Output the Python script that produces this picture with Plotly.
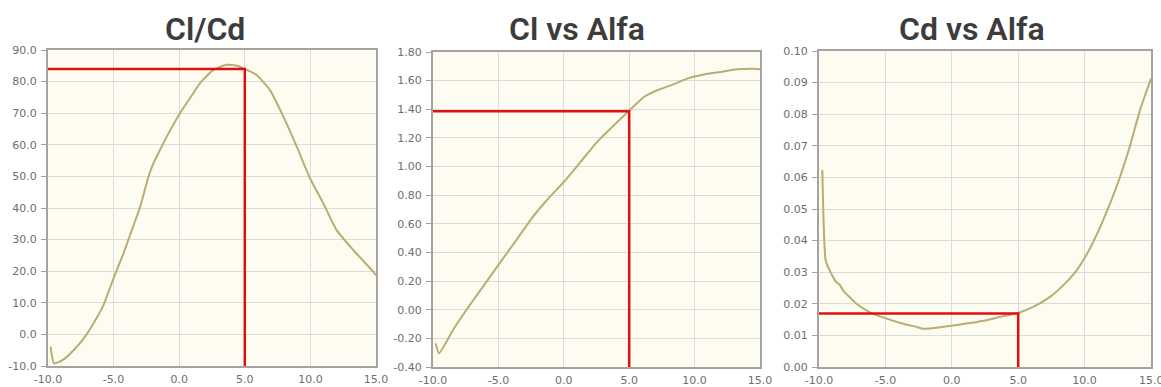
import plotly.graph_objects as go

W, H = 1161, 387

# ---- data ----
alfa_clcd = [-9.8, -9.54, -8.83, -8.07, -7.3, -6.55, -5.78, -5.02, -4.26, -3.62, -2.99, -2.35, -1.97,
             -1.46, -0.96, 0.06, 1.07, 1.59, 2.6, 3.62, 4.4, 4.88, 5.9, 6.92, 7.94, 8.96, 9.97, 10.98,
             12.0, 13.27, 14.8, 15.0]
clcd = [-3.9, -9.2, -8.0, -5.1, -1.4, 3.4, 9.2, 17.6, 25.5, 32.9, 40.2, 49.8, 54.1,
        58.4, 62.5, 70.0, 76.3, 79.5, 83.7, 85.3, 85.0, 84.2, 82.1, 77.3, 68.9, 59.4, 49.4, 41.5,
        33.0, 26.7, 19.8, 18.7]

alfa_cl = [-9.8, -9.54, -8.47, -7.45, -6.18, -4.9, -3.63, -2.35, -1.2, 0.0, 1.28, 2.55, 3.83, 5.03,
           6.12, 7.15, 8.17, 9.44, 10.08, 10.97, 11.99, 13.26, 14.5, 15.0]
cl = [-0.234, -0.304, -0.141, -0.002, 0.161, 0.325, 0.487, 0.65, 0.775, 0.892, 1.032, 1.172, 1.288, 1.393,
      1.486, 1.533, 1.567, 1.614, 1.63, 1.648, 1.66, 1.679, 1.683, 1.679]

alfa_cd = [-9.75, -9.5, -9.2, -8.7, -8.45, -8.2, -7.2, -6.2, -4.9, -3.67, -2.66, -2.16, -1.16, 0.1,
           1.36, 2.6, 3.87, 5.0, 6.13, 7.4, 8.4, 9.4, 10.4, 11.4, 12.4, 13.4, 14.17, 15.0]
cd = [0.0623, 0.0338, 0.0306, 0.0269, 0.0261, 0.0243, 0.0201, 0.0174, 0.0153, 0.0137, 0.0127, 0.0121,
      0.0124, 0.0131, 0.0139, 0.0148, 0.0161, 0.0171, 0.019, 0.0222, 0.0259, 0.0306, 0.0375, 0.0465,
      0.057, 0.0697, 0.0813, 0.0913]

titles = ["Cl/Cd", "Cl vs Alfa", "Cd vs Alfa"]
sel_alfa = 5.0
sel_vals = [84.0, 1.386, 0.0169]

x_tickvals = [-10, -5, 0, 5, 10, 15]
x_ticktext = ["-10.0", "-5.0", "0.0", "5.0", "10.0", "15.0"]

y1_tickvals = [-10, 0, 10, 20, 30, 40, 50, 60, 70, 80, 90]
y1_ticktext = ["-10.0", "0.0", "10.0", "20.0", "30.0", "40.0", "50.0", "60.0", "70.0", "80.0", "90.0"]
y2_tickvals = [-0.4, -0.2, 0.0, 0.2, 0.4, 0.6, 0.8, 1.0, 1.2, 1.4, 1.6, 1.8]
y2_ticktext = ["-0.40", "-0.20", "0.00", "0.20", "0.40", "0.60", "0.80", "1.00", "1.20", "1.40", "1.60", "1.80"]
y3_tickvals = [0.0, 0.01, 0.02, 0.03, 0.04, 0.05, 0.06, 0.07, 0.08, 0.09, 0.10]
y3_ticktext = ["0.00", "0.01", "0.02", "0.03", "0.04", "0.05", "0.06", "0.07", "0.08", "0.09", "0.10"]

# ---- layout geometry (pixels) ----
boxes = [(48, 376, 50, 366), (433, 760, 52, 367), (819, 1151, 51, 367)]
title_cx = [205, 577, 972]

LINE = "#b8ad72"
RED = "#e01010"
BG = "#fefcf1"
GRID = "#dcdcdc"
BORDER = "#a3a3a3"
TICKC = "#6e6e6e"
TICKFONT = dict(family="DejaVu Sans", size=11, color=TICKC)

fig = go.Figure()
series = [(alfa_clcd, clcd), (alfa_cl, cl), (alfa_cd, cd)]
yticks = [(y1_tickvals, y1_ticktext), (y2_tickvals, y2_ticktext), (y3_tickvals, y3_ticktext)]

layout = dict(
    width=W, height=H,
    margin=dict(l=0, r=0, t=0, b=0),
    paper_bgcolor="white",
    showlegend=False,
    annotations=[], shapes=[],
)

for i, ((xs, ys), box) in enumerate(zip(series, boxes)):
    n = "" if i == 0 else str(i + 1)
    xa, ya = "x" + n, "y" + n
    x0, x1, y0, y1 = box
    yv, yt = yticks[i]
    layout["xaxis" + n] = dict(
        domain=[x0 / W, x1 / W], anchor=ya, range=[x_tickvals[0], x_tickvals[-1]],
        tickmode="array", tickvals=x_tickvals, ticktext=x_ticktext,
        showgrid=True, gridcolor=GRID, gridwidth=1, zeroline=False,
        showline=True, linecolor=BORDER, linewidth=2, mirror=True,
        ticks="", ticklabelstandoff=2,
        tickfont=TICKFONT, automargin=False,
        fixedrange=True,
    )
    layout["yaxis" + n] = dict(
        domain=[1 - y1 / H, 1 - y0 / H], anchor=xa, range=[yv[0], yv[-1]],
        tickmode="array", tickvals=yv, ticktext=yt,
        showgrid=True, gridcolor=GRID, gridwidth=1,
        zeroline=False, showline=True, linecolor=BORDER, linewidth=2, mirror=True,
        ticks="outside", ticklen=5, tickcolor=BORDER, ticklabelstandoff=2,
        tickfont=TICKFONT, automargin=False,
        fixedrange=True,
    )
    layout["shapes"].append(dict(type="rect", xref=xa + " domain", yref=ya + " domain",
                                 x0=0, x1=1, y0=0, y1=1, fillcolor=BG, line=dict(width=0),
                                 layer="below"))
    fig.add_trace(go.Scatter(x=xs, y=ys, mode="lines", xaxis=xa, yaxis=ya,
                             line=dict(color=LINE, width=2, shape="spline", smoothing=0.5),
                             hoverinfo="skip"))
    fig.add_trace(go.Scatter(x=[x_tickvals[0], sel_alfa, sel_alfa], y=[sel_vals[i], sel_vals[i], yv[0]],
                             mode="lines", xaxis=xa, yaxis=ya, line=dict(color=RED, width=2.5),
                             hoverinfo="skip", cliponaxis=False))
    layout["annotations"].append(dict(
        text=titles[i], xref="paper", yref="paper",
        x=title_cx[i] / W, y=1 - 29 / H, xanchor="center", yanchor="middle", showarrow=False,
        font=dict(family="Roboto", size=32, color="#3c3c3c", weight=600),
    ))

# last x tick label of the right panel runs past the page edge (cut off, as in the reference)
layout["annotations"].append(dict(
    text=x_ticktext[-1], xref="x3", yref="paper", x=x_tickvals[-1], y=1 - 380 / H,
    xanchor="center", yanchor="middle", showarrow=False, font=TICKFONT,
))

fig.update_layout(**layout)
fig.write_html("out.html", config={"displayModeBar": False},
               post_script="document.body.style.margin='0';document.body.style.overflow='hidden';")
